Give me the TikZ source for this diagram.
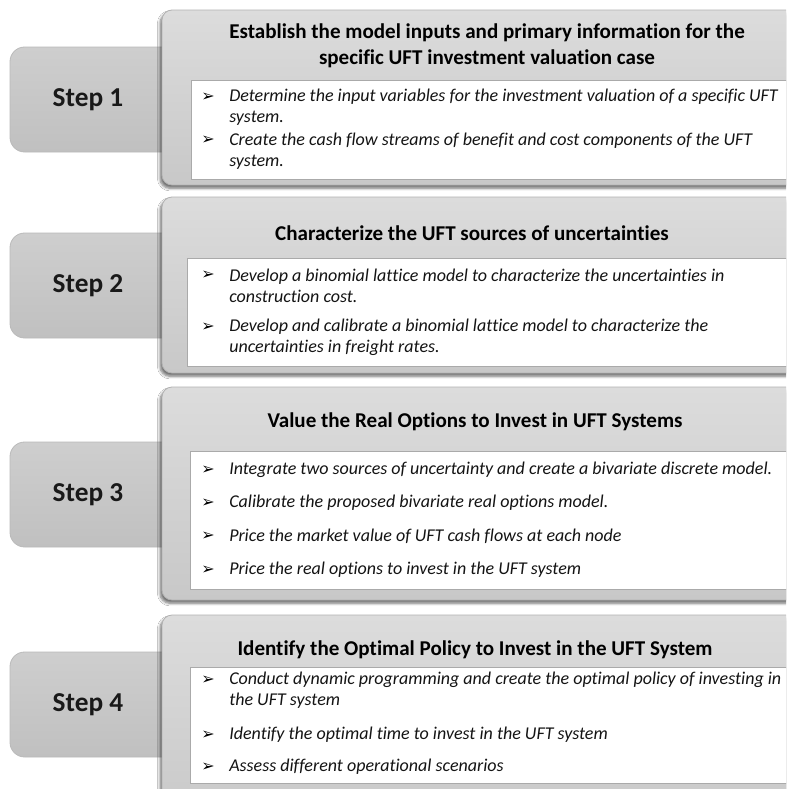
\documentclass[tikz,border=0pt]{standalone}
\usepackage{fontspec}
\setmainfont{Carlito}[Ligatures=NoCommon]
\newfontfamily\arrowfont{DejaVu Sans}
\usetikzlibrary{shadows.blur}
\definecolor{tabhi}{RGB}{206,206,206}
\definecolor{tablo}{RGB}{192,192,192}
\definecolor{tabedge}{RGB}{186,186,186}
\definecolor{panelhi}{RGB}{220,220,220}
\definecolor{panello}{RGB}{200,200,200}
\definecolor{paneledge}{RGB}{178,178,178}
\definecolor{listedge}{RGB}{170,170,170}
\tikzset{
  steptab/.style={draw=tabedge,line width=0.6pt,top color=tabhi,bottom color=tablo,rounded corners=11pt},
  panel/.style={draw=paneledge,line width=0.6pt,top color=panelhi,bottom color=panello,rounded corners=7.5pt,
                blur shadow={shadow xshift=-1.5pt,shadow yshift=-2.5pt,shadow blur steps=6,shadow opacity=55}},
  listbox/.style={draw=listedge,line width=0.6pt,fill=white},
  steplabel/.style={font=\fontsize{20.5}{24}\selectfont\bfseries,text=black!90},
  paneltitle/.style={font=\fontsize{15.8}{19.5}\selectfont\bfseries,align=center,text=black},
  item/.style={anchor=west,inner sep=0pt,align=left,font=\fontsize{13.5}{15.75}\selectfont\itshape,text=black!92},
  bullet/.style={inner sep=0pt,font=\arrowfont\fontsize{12}{12}\selectfont},
}

\begin{document}
\begin{tikzpicture}[x=0.75pt,y=-0.75pt]
  \clip (0,0) rectangle (786,789);
  \fill[white] (0,0) rectangle (786,789);

  % step tabs on the left
  \foreach \n/\top/\bot in {1/47/152,2/233/338,3/442/547,4/652/757}{
    \path[steptab] (10,\top) rectangle (190,\bot);
  }

  % stage panels
  \path[panel] (162,10) rectangle (815,185);
  \path[panel] (162,197) rectangle (815,373);
  \path[panel] (162,387) rectangle (815,600);
  \path[panel] (162,615) rectangle (815,830);

  \path[listbox] (191,80) rectangle (792,179);
  \path[listbox] (187,258) rectangle (792,366);
  \path[listbox] (190,451) rectangle (792,589);
  \path[listbox] (190,667) rectangle (792,783);

  \foreach \n/\top/\bot in {1/47/152,2/233/338,3/442/547,4/652/757}{
    \node[steplabel] (step\n) at (88,{(\top+\bot)/2}) {Step \n};
  }

  \node[paneltitle] (title1) at (487,45.5)
    {Establish the model inputs and primary information for the\\specific UFT investment valuation case};
  \node[paneltitle] (title2) at (472,233) {Characterize the UFT sources of uncertainties};
  \node[paneltitle] (title3) at (475,422) {Value the Real Options to Invest in UFT Systems};
  \node[paneltitle] (title4) at (475,650) {Identify the Optimal Policy to Invest in the UFT System};

  % bullets
  \foreach \y [count=\k] in {97,140,275,327,470,503,536,570,680,735,767}{
    \node[bullet] (arrow\k) at (208,\y) {➢};
  }

  \node[item] (item1a) at (229,107.5)
    {Determine the input variables for the investment valuation of a specific UFT\\system.};
  \node[item] (item1b) at (229,151)
    {Create the cash flow streams of benefit and cost components of the UFT\\system.};

  \node[item] (item2a) at (229,286)
    {Develop a binomial lattice model to characterize the uncertainties in\\construction cost.};
  \node[item] (item2b) at (229,337.5)
    {Develop and calibrate a binomial lattice model to characterize the\\uncertainties in freight rates.};

  \node[item] (item3a) at (229,470) {Integrate two sources of uncertainty and create a bivariate discrete model.};
  \node[item] (item3b) at (229,503) {Calibrate the proposed bivariate real options model.};
  \node[item] (item3c) at (229,536) {Price the market value of UFT cash flows at each node};
  \node[item] (item3d) at (229,570) {Price the real options to invest in the UFT system};

  \node[item] (item4a) at (229,690.5)
    {Conduct dynamic programming and create the optimal policy of investing in\\the UFT system};
  \node[item] (item4b) at (229,735) {Identify the optimal time to invest in the UFT system};
  \node[item] (item4c) at (229,767) {Assess different operational scenarios};
\end{tikzpicture}
\end{document}
